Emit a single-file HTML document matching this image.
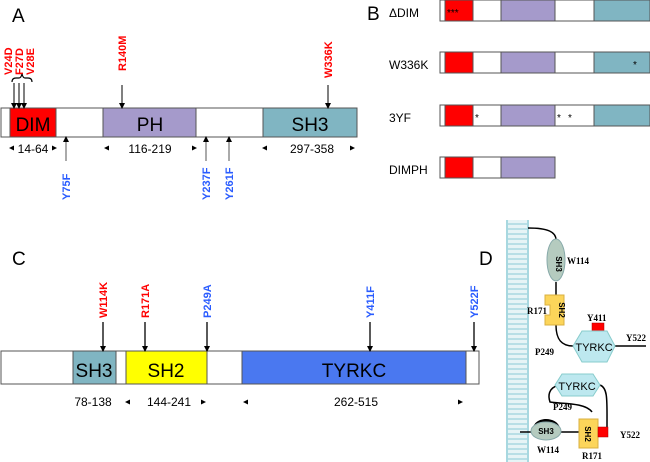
<!DOCTYPE html>
<html><head><meta charset="utf-8"><style>
html,body{margin:0;padding:0;background:#fff}
svg{display:block}
text{font-family:"Liberation Sans",Arial,sans-serif}
.r{fill:#f00;font-weight:bold;font-size:11px}
.b{fill:#2a5cff;font-weight:bold;font-size:11px}
.s{font-family:"Liberation Serif",serif;font-weight:bold;font-size:9px}
</style></head><body>
<svg width="650" height="462" viewBox="0 0 650 462" xmlns="http://www.w3.org/2000/svg">
<defs>
<marker id="ah" markerWidth="6" markerHeight="6" refX="5" refY="3" orient="auto" markerUnits="userSpaceOnUse"><path d="M0,0 L6,3 L0,6 z" fill="#000"/></marker>
</defs>
<!-- A -->
<text x="12" y="22" font-size="19">A</text>
<rect x="1" y="108" width="356" height="29" fill="#fff" stroke="#555"/>
<rect x="10" y="108" width="46" height="29" fill="#f00" stroke="#555"/>
<rect x="103" y="108" width="93" height="29" fill="#a59acb" stroke="#555"/>
<rect x="263" y="108" width="94" height="29" fill="#80b5c2" stroke="#555"/>
<text x="33" y="131" font-size="19" text-anchor="middle">DIM</text>
<text x="150" y="131" font-size="19" text-anchor="middle">PH</text>
<text x="310" y="131" font-size="19" text-anchor="middle">SH3</text>
<text class="r" transform="translate(12,75) rotate(-90)">V24D</text>
<text class="r" transform="translate(23,75) rotate(-90)">F27D</text>
<text class="r" transform="translate(34,75) rotate(-90)">V28E</text>
<path d="M12,82 q0,-4 4,-4 h3 q2,0 3,-4 q1,4 3,4 h3 q4,0 4,4" fill="none" stroke="#000" stroke-width="1.2"/>
<line x1="14" y1="83" x2="14" y2="108" stroke="#000" marker-end="url(#ah)"/>
<line x1="19" y1="83" x2="19" y2="108" stroke="#000" marker-end="url(#ah)"/>
<line x1="24" y1="83" x2="24" y2="108" stroke="#000" marker-end="url(#ah)"/>
<text class="r" transform="translate(126,71) rotate(-90)">R140M</text>
<line x1="122" y1="85" x2="122" y2="108" stroke="#000" marker-end="url(#ah)"/>
<text class="r" transform="translate(332,78) rotate(-90)">W336K</text>
<line x1="328" y1="85" x2="328" y2="108" stroke="#000" marker-end="url(#ah)"/>
<text x="33" y="153" font-size="12" text-anchor="middle">14-64</text>
<path d="M9,148 l5,-2.5 v5z M57,148 l-5,-2.5 v5z M104,148 l5,-2.5 v5z M197,148 l-5,-2.5 v5z M262,148 l5,-2.5 v5z M355,148 l-5,-2.5 v5z"/>
<text x="150" y="153" font-size="12" text-anchor="middle">116-219</text>
<text x="312" y="153" font-size="12" text-anchor="middle">297-358</text>
<line x1="66" y1="161" x2="66" y2="137" stroke="#555" marker-end="url(#ah)"/>
<line x1="206" y1="161" x2="206" y2="137" stroke="#555" marker-end="url(#ah)"/>
<line x1="229" y1="161" x2="229" y2="137" stroke="#555" marker-end="url(#ah)"/>
<text class="b" transform="translate(70,200) rotate(-90)">Y75F</text>
<text class="b" transform="translate(210,200) rotate(-90)">Y237F</text>
<text class="b" transform="translate(233,200) rotate(-90)">Y261F</text>
<!-- B -->
<text x="367" y="20" font-size="19">B</text>
<g font-size="12">
<text x="389" y="17">ΔDIM</text><text x="389" y="69">W336K</text><text x="389" y="122">3YF</text><text x="389" y="174">DIMPH</text>
</g>
<g stroke="#555">
<g transform="translate(0,0)"><rect x="440" y="0" width="210" height="21" fill="#fff"/><rect x="445" y="0" width="28" height="21" fill="#f00"/><rect x="501" y="0" width="54" height="21" fill="#a59acb"/><rect x="594" y="0" width="56" height="21" fill="#80b5c2"/></g>
<g transform="translate(0,52)"><rect x="440" y="0" width="210" height="21" fill="#fff"/><rect x="445" y="0" width="28" height="21" fill="#f00"/><rect x="501" y="0" width="54" height="21" fill="#a59acb"/><rect x="594" y="0" width="56" height="21" fill="#80b5c2"/></g>
<g transform="translate(0,105)"><rect x="440" y="0" width="210" height="21" fill="#fff"/><rect x="445" y="0" width="28" height="21" fill="#f00"/><rect x="501" y="0" width="54" height="21" fill="#a59acb"/><rect x="594" y="0" width="56" height="21" fill="#80b5c2"/></g>
<g transform="translate(0,157)"><rect x="440" y="0" width="115" height="21" fill="#fff"/><rect x="445" y="0" width="28" height="21" fill="#f00"/><rect x="501" y="0" width="54" height="21" fill="#a59acb"/></g>
</g>
<g font-size="10"><text x="447" y="16">***</text><text x="633" y="68">*</text><text x="475" y="121">*</text><text x="557" y="121">*</text><text x="568" y="121">*</text></g>
<!-- C -->
<text x="12" y="265" font-size="19">C</text>
<rect x="1" y="351" width="478" height="33" fill="#fff" stroke="#555"/>
<rect x="73" y="351" width="43" height="33" fill="#80b5c2" stroke="#555"/>
<rect x="126" y="351" width="81" height="33" fill="#ff0" stroke="#555"/>
<rect x="242" y="351" width="224" height="33" fill="#4a78f0" stroke="#555"/>
<text x="94" y="377" font-size="19" text-anchor="middle">SH3</text>
<text x="166" y="377" font-size="19" text-anchor="middle">SH2</text>
<text x="354" y="377" font-size="19" text-anchor="middle">TYRKC</text>
<text class="r" transform="translate(107,318) rotate(-90)">W114K</text>
<text class="r" transform="translate(149,318) rotate(-90)">R171A</text>
<text class="b" transform="translate(211,318) rotate(-90)">P249A</text>
<text class="b" transform="translate(374,318) rotate(-90)">Y411F</text>
<text class="b" transform="translate(478,318) rotate(-90)">Y522F</text>
<g stroke="#000" stroke-width="1.3">
<line x1="103" y1="322" x2="103" y2="351" marker-end="url(#ah)"/>
<line x1="145" y1="322" x2="145" y2="351" marker-end="url(#ah)"/>
<line x1="207" y1="322" x2="207" y2="351" marker-end="url(#ah)"/>
<line x1="370" y1="322" x2="370" y2="351" marker-end="url(#ah)"/>
<line x1="474" y1="322" x2="474" y2="351" marker-end="url(#ah)"/>
</g>
<text x="93" y="406" font-size="12" text-anchor="middle">78-138</text>
<text x="169" y="406" font-size="12" text-anchor="middle">144-241</text>
<text x="356" y="406" font-size="12" text-anchor="middle">262-515</text>
<path d="M125,402 l5,-2.5 v5z M206,402 l-5,-2.5 v5z M243,402 l5,-2.5 v5z M463,402 l-5,-2.5 v5z"/>
<!-- D -->
<text x="479" y="265" font-size="19">D</text>
<g>
<rect x="507" y="220" width="21" height="242" fill="#e6f4f6"/>
<g stroke="#a8d8e0" stroke-width="2">
<line x1="507" y1="220" x2="507" y2="462"/><line x1="528" y1="220" x2="528" y2="462"/>
</g>
<g id="rungs" stroke="#a8d8e0" stroke-width="1.5">
</g>
</g>
<path d="M507,224 h21 M507,229 h21 M507,234 h21 M507,239 h21 M507,244 h21 M507,249 h21 M507,254 h21 M507,259 h21 M507,264 h21 M507,269 h21 M507,274 h21 M507,279 h21 M507,284 h21 M507,289 h21 M507,294 h21 M507,299 h21 M507,304 h21 M507,309 h21 M507,314 h21 M507,319 h21 M507,324 h21 M507,329 h21 M507,334 h21 M507,339 h21 M507,344 h21 M507,349 h21 M507,354 h21 M507,359 h21 M507,364 h21 M507,369 h21 M507,374 h21 M507,379 h21 M507,384 h21 M507,389 h21 M507,394 h21 M507,399 h21 M507,404 h21 M507,409 h21 M507,414 h21 M507,419 h21 M507,424 h21 M507,429 h21 M507,434 h21 M507,439 h21 M507,444 h21 M507,449 h21 M507,454 h21 M507,459 h21" stroke="#a8d8e0" stroke-width="1.5"/>
<!-- upper -->
<g fill="none" stroke="#000" stroke-width="1.5">
<path d="M528,228 C548,228 556,232 556,240"/>
<line x1="556" y1="282" x2="556" y2="295"/>
<path d="M556,325 C556,340 562,346 573,346"/>
<line x1="615" y1="346" x2="646" y2="346"/>
</g>
<ellipse cx="556" cy="260" rx="9" ry="21" fill="#b5cbbf" stroke="#8aa"/>
<text x="560" y="260" font-size="8" font-weight="bold" transform="rotate(90 556 260)" text-anchor="middle">SH3</text>
<path d="M545,295 h19 v30 h-19 v-10 h5 v-10 h-5z" fill="#fcd55a" stroke="#d9b040"/>
<text x="559" y="310" font-size="8" font-weight="bold" transform="rotate(90 559 310)" text-anchor="middle">SH2</text>
<text class="s" x="567" y="264">W114</text>
<text class="s" x="527" y="314">R171</text>
<text class="s" x="587" y="321">Y411</text>
<rect x="592" y="323" width="12" height="9" fill="#f00" stroke="#a00" stroke-width=".5"/>
<polygon points="573,346 582,331 607,331 615,346 607,362 582,362" fill="#bde8ef" stroke="#8cc"/>
<text x="594" y="351" font-size="11" text-anchor="middle">TYRKC</text>
<text class="s" x="626" y="341">Y522</text>
<text class="s" x="535" y="355">P249</text>
<!-- lower -->
<g fill="none" stroke="#000" stroke-width="1.5">
<line x1="520" y1="432" x2="531" y2="432"/>
<line x1="561" y1="432" x2="579" y2="432"/>
<path d="M559,385 C548,388 548,396 550,402 C560,404 585,402 592,412"/>
<path d="M600,385 C608,388 607,400 607,427"/>
</g>
<path d="M533,428 C535,416 557,416 560,428z" fill="#000"/>
<ellipse cx="546" cy="431" rx="15" ry="9" fill="#b5cbbf" stroke="#8aa"/>
<text x="546" y="434" font-size="8" font-weight="bold" text-anchor="middle">SH3</text>
<rect x="579" y="419" width="19" height="29" fill="#fcd55a" stroke="#d9b040"/>
<text x="585" y="434" font-size="8" font-weight="bold" transform="rotate(90 585 434)" text-anchor="middle">SH2</text>
<rect x="598" y="427" width="10" height="10" fill="#f00" stroke="#a00" stroke-width=".5"/>
<polygon points="555,385 562,374 593,374 600,385 593,396 562,396" fill="#bde8ef" stroke="#8cc"/>
<text x="577" y="390" font-size="11" text-anchor="middle">TYRKC</text>
<text class="s" x="553" y="410">P249</text>
<text class="s" x="620" y="438">Y522</text>
<text class="s" x="537" y="453">W114</text>
<text class="s" x="582" y="459">R171</text>
</svg>
</body></html>
